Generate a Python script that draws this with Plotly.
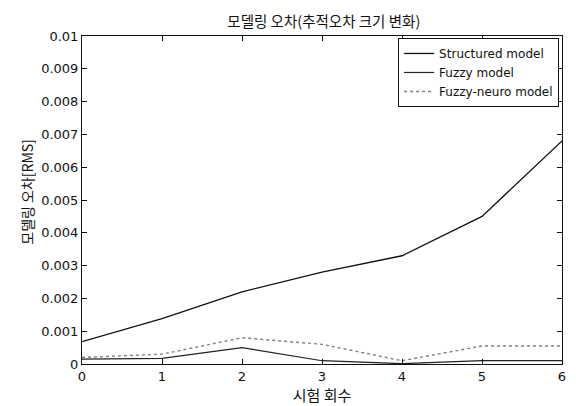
import plotly.graph_objects as go

trials = [0, 1, 2, 3, 4, 5, 6]
structured = [0.00068, 0.00138, 0.0022, 0.0028, 0.0033, 0.0045, 0.0068]
fuzzy = [0.00015, 0.00017, 0.0005, 0.0001, 0.00001, 0.0001, 0.0001]
fuzzy_neuro = [0.0002, 0.0003, 0.0008, 0.0006, 0.0001, 0.00055, 0.00055]

y_ticks = [0, 0.001, 0.002, 0.003, 0.004, 0.005, 0.006, 0.007, 0.008, 0.009, 0.01]
y_labels = ["0", "0.001", "0.002", "0.003", "0.004", "0.005", "0.006", "0.007", "0.008", "0.009", "0.01"]
x_ticks = [0, 1, 2, 3, 4, 5, 6]

kfont = "Noto Sans CJK KR"
lfont = "DejaVu Sans"

fig = go.Figure()
fig.add_trace(go.Scatter(x=trials, y=structured, mode="lines", name="Structured model",
                         line=dict(color="#111111", width=1.3)))
fig.add_trace(go.Scatter(x=trials, y=fuzzy, mode="lines", name="Fuzzy model",
                         line=dict(color="#222222", width=1.2)))
fig.add_trace(go.Scatter(x=trials, y=fuzzy_neuro, mode="lines", name="Fuzzy-neuro model",
                         line=dict(color="#808080", width=1.4, dash="dot")))

fig.update_layout(
    width=568, height=398,
    margin=dict(l=74, r=10, t=28, b=39),
    paper_bgcolor="white", plot_bgcolor="white",
    font=dict(family=lfont, size=13, color="#111111"),
    title=dict(text="모델링 오차(추적오차 크기 변화)", x=0.556, xanchor="center",
               y=0.965, yanchor="middle", font=dict(size=14.5, family=kfont)),
    showlegend=True,
    legend=dict(x=0.994, y=0.994, xanchor="right", yanchor="top",
                bordercolor="#111111", borderwidth=1, bgcolor="white",
                font=dict(size=12, family=lfont), tracegroupgap=0,
                itemwidth=30),
    annotations=[dict(text="모델링 오차[RMS]", xref="paper", yref="paper",
                      x=-0.114, y=0.526, xanchor="center", yanchor="middle",
                      textangle=-90, showarrow=False,
                      font=dict(size=14, family=kfont, color="#111111"))],
)
fig.update_xaxes(range=[0, 6], tickvals=x_ticks, ticks="inside", ticklen=5,
                 tickcolor="#111111", showline=True, linecolor="#111111", linewidth=1,
                 mirror="ticks", showgrid=False, zeroline=False,
                 tickfont=dict(family=lfont, size=13),
                 title=dict(text="시험 회수", font=dict(size=15, family=kfont), standoff=2))
fig.update_yaxes(range=[0, 0.01], tickvals=y_ticks, ticktext=y_labels, ticks="inside", ticklen=5,
                 tickcolor="#111111", showline=True, linecolor="#111111", linewidth=1,
                 mirror="ticks", showgrid=False, zeroline=False,
                 tickfont=dict(family=lfont, size=13))

fig.write_html("out.html")
